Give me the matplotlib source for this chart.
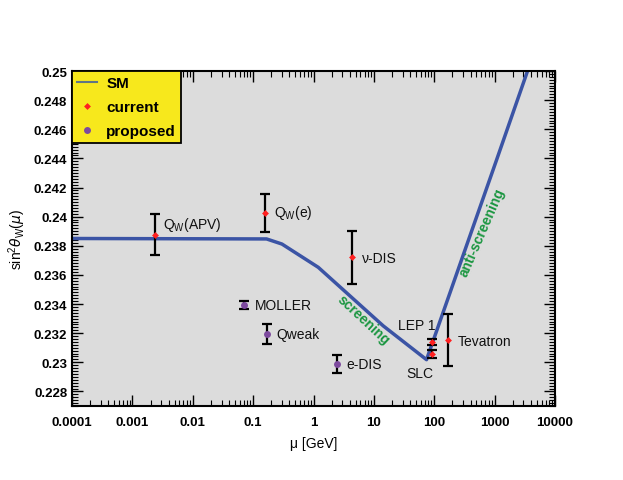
import numpy as np
import matplotlib
matplotlib.use("Agg")
import matplotlib.pyplot as plt
from matplotlib.lines import Line2D
from matplotlib.ticker import FixedLocator, FuncFormatter, MultipleLocator

plt.rcParams['font.family'] = ['Liberation Sans', 'DejaVu Sans']

# ----------------------------------------------------------------------
# data
# ----------------------------------------------------------------------
# SM running of sin^2 theta_W (MSbar)
sm_mu  = [1e-4, 0.167, 0.30, 1.2, 14.3, 74.5, 1076, 3508]
sm_s2w = [0.2385, 0.23847, 0.23812, 0.23652, 0.2325, 0.23018, 0.24389, 0.2500]

# current measurements
cur_names = ['APV', 'Qw(e)', 'nu-DIS', 'LEP 1', 'SLC', 'Tevatron']
cur_mu    = [0.00237, 0.157, 4.27, 91.2, 91.2, 170]
cur_s2w   = [0.23876, 0.24023, 0.23721, 0.23142, 0.23057, 0.23153]
cur_err   = [0.0014, 0.0013, 0.0018, 0.0002, 0.0003, 0.0018]

# proposed measurements
prop_names = ['MOLLER', 'Qweak', 'e-DIS']
prop_mu    = [0.0705, 0.171, 2.47]
prop_s2w   = [0.23393, 0.23194, 0.22988]
prop_err   = [0.00026, 0.0007, 0.0006]

# text labels: (text, mu, y)
labels = [
    (r'Q$_\mathregular{W}$(APV)', 0.0032, 0.2395),
    (r'Q$_\mathregular{W}$(e)', 0.22, 0.24032),
    (u'\u03bd-DIS', 6.25, 0.23716),
    ('MOLLER', 0.107, 0.23393),
    ('Qweak', 0.239, 0.23194),
    ('e-DIS', 3.53, 0.22988),
    ('LEP 1', 24.7, 0.23256),
    ('SLC', 34.7, 0.22927),
    ('Tevatron', 245, 0.23148),
]

xticks = [1e-4, 1e-3, 1e-2, 1e-1, 1, 10, 100, 1000, 10000]

# ----------------------------------------------------------------------
# figure
# ----------------------------------------------------------------------
fig = plt.figure(figsize=(6.23, 4.81), dpi=100)
ax = fig.add_axes([72/623, 1 - 407/481, (555 - 72)/623, (407 - 72)/481])
ax.set_facecolor('#dcdcdc')

ax.plot(sm_mu, sm_s2w, color='#3b54a5', lw=2.5, zorder=2)

ax.errorbar(cur_mu, cur_s2w, yerr=cur_err, fmt='none', ecolor='black',
            elinewidth=1.6, capsize=3.6, capthick=1.6, zorder=3)
ax.plot(cur_mu, cur_s2w, 'D', color='#ff2020', ms=3.5, mec='none', zorder=4)

ax.errorbar(prop_mu, prop_s2w, yerr=prop_err, fmt='none', ecolor='black',
            elinewidth=1.6, capsize=3.6, capthick=1.6, zorder=3)
ax.plot(prop_mu, prop_s2w, 'o', color='#7d4a9e', ms=5, mec='none', zorder=4)

for txt, xx, yy in labels:
    ax.text(xx, yy, txt, fontsize=10, ha='left', va='center', color='#111111')

ax.text(6.6, 0.23298, 'screening', color='#1a9640', fontsize=10,
        fontweight='bold', rotation=-43, ha='center', va='center',
        rotation_mode='anchor')
ax.text(620, 0.23900, 'anti-screening', color='#1a9640', fontsize=10,
        fontweight='bold', rotation=66.5, ha='center', va='center',
        rotation_mode='anchor')

ax.set_xscale('log')
ax.set_xlim(1e-4, 1e4)
ax.set_ylim(0.227, 0.25)

ax.xaxis.set_major_locator(FixedLocator(xticks))
ax.xaxis.set_major_formatter(FuncFormatter(lambda v, pos: '%g' % v))
ax.yaxis.set_major_locator(MultipleLocator(0.002))
ax.yaxis.set_minor_locator(MultipleLocator(0.0002))
ax.yaxis.set_major_formatter(FuncFormatter(lambda v, pos: '%g' % round(v, 4)))

ax.tick_params(which='both', direction='in', top=True, right=True)
ax.tick_params(which='major', length=8, width=1, labelsize=9.5)
ax.tick_params(axis='x', which='major', pad=7)
ax.tick_params(which='minor', length=4, width=0.8)
for lab in ax.get_xticklabels() + ax.get_yticklabels():
    lab.set_fontweight('bold')
for sp in ax.spines.values():
    sp.set_linewidth(1.5)

ax.set_xlabel(u'\u03bc [GeV]', fontsize=10, labelpad=6)
ax.set_ylabel(r'sin$^\mathregular{2}\theta_\mathregular{W}$($\mu$)', fontsize=10)

handles = [
    Line2D([], [], color='#5f7585', lw=1.5),
    Line2D([], [], marker='D', color='#ff2020', ls='none', ms=3.5, mec='none'),
    Line2D([], [], marker='o', color='#7d4a9e', ls='none', ms=5, mec='none'),
]
leg = ax.legend(handles, ['SM', 'current', 'proposed'], loc='upper left',
                bbox_to_anchor=(0, 1), borderaxespad=0, fancybox=False,
                framealpha=1, facecolor='#f7e81c', edgecolor='black',
                prop={'weight': 'bold', 'size': 11}, handlelength=1.3,
                handletextpad=0.6, borderpad=0.35, labelspacing=0.64)
leg.get_frame().set_linewidth(1.3)
leg.set_zorder(5)

fig.savefig('out.png', dpi=100)
